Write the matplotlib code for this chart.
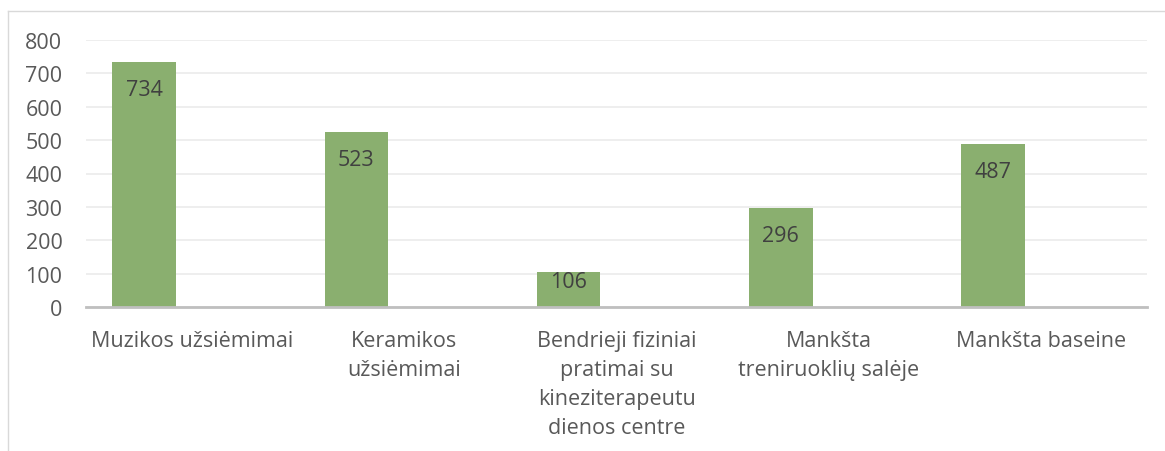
import matplotlib

matplotlib.use("Agg")

import matplotlib.pyplot as plt
import numpy as np
from matplotlib.lines import Line2D

CATEGORIES = [
    "Muzikos užsiėmimai",
    "Keramikos\nužsiėmimai",
    "Bendrieji fiziniai\npratimai su\nkineziterapeutu\ndienos centre",
    "Mankšta\ntreniruoklių salėje",
    "Mankšta baseine",
]
VALUES = [734, 523, 106, 296, 487]
Y_TICKS = [0, 100, 200, 300, 400, 500, 600, 700, 800]

BAR = "#8aaf6f"
TXT = "#595959"
FS = 15.5

plt.rcParams["font.family"] = ["Open Sans", "DejaVu Sans"]

W, H = 1165, 452
fig = plt.figure(figsize=(W / 100, H / 100), dpi=100)
ax = fig.add_axes([86 / W, 1 - 308 / H, (1147 - 86) / W, (308 - 41) / H])

x = np.arange(len(CATEGORIES))
bars = ax.bar(x - 0.226, VALUES, width=0.30, color=BAR, zorder=2)
px_per_unit = (308 - 41) / 800
for b, v in zip(bars, VALUES):
    # label sits ~27px under the bar top, pushed up when the bar is short
    off_px = min(27, v * px_per_unit - 25)
    ax.annotate(str(v), (b.get_x() + b.get_width() / 2, v), xytext=(0, -off_px * 0.72),
                textcoords="offset points", ha="center", va="center",
                fontsize=FS, color="#404040", zorder=3)

ax.set_xlim(-0.5, len(CATEGORIES) - 0.5)
ax.set_ylim(0, 800)
ax.set_yticks(Y_TICKS)
ax.set_yticklabels([str(t) for t in Y_TICKS], fontsize=FS, color=TXT)
ax.set_xticks(x)
ax.set_xticklabels(CATEGORIES, fontsize=FS, color=TXT, va="top",
                   linespacing=1.5)
ax.tick_params(axis="both", length=0)
ax.tick_params(axis="y", pad=17)
ax.tick_params(axis="x", pad=16.5)
ax.grid(axis="y", color="#ebebeb", lw=1.2, zorder=0)
for s in ("top", "right", "left"):
    ax.spines[s].set_visible(False)
ax.spines["bottom"].set_color("#bfbfbf")
ax.spines["bottom"].set_linewidth(2)
ax.spines["bottom"].set_zorder(3)

# chart frame (top and left edges visible)
fig.add_artist(Line2D([8 / W, 1], [1 - 12 / H, 1 - 12 / H], color="#d9d9d9", lw=1))
fig.add_artist(Line2D([8 / W, 8 / W], [0, 1 - 12 / H], color="#d9d9d9", lw=1))

fig.savefig("out.png", dpi=100)
